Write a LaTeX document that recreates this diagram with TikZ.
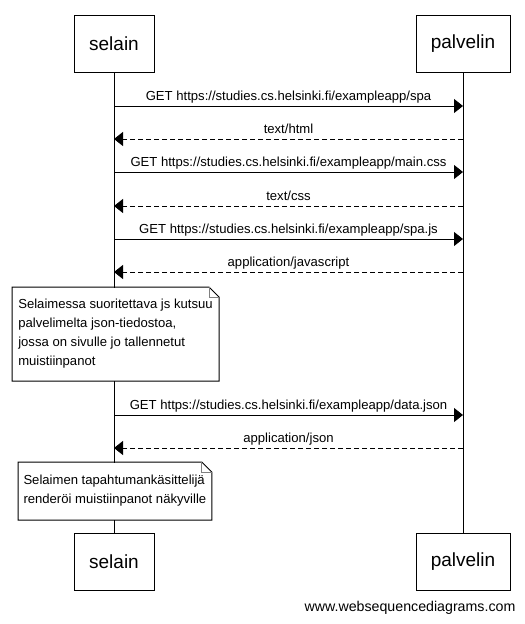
\documentclass[tikz,border=0pt]{standalone}
\usepackage{fontspec}
\setmainfont{Liberation Sans}
\usetikzlibrary{arrows.meta}

\tikzset{
  actor/.style={draw,rectangle,minimum height=57bp,inner xsep=8bp,font=\fontsize{19bp}{22bp}\selectfont},
  msg/.style={-{Triangle[length=9bp,width=14bp]}},
  reply/.style={msg,dash pattern=on 5bp off 3bp},
  msglabel/.style={midway,above,inner sep=2bp,text depth=3bp,font=\fontsize{13.1bp}{15bp}\selectfont},
  notebox/.style={fill=white,align=left,inner xsep=5bp,inner ysep=0bp,font=\fontsize{13.1bp}{19bp}\selectfont}
}

\begin{document}
\begin{tikzpicture}[line width=1bp]
\useasboundingbox (0bp,0bp) rectangle (525bp,-624bp);

% participants
\node (S) at (114bp,-43.5bp)[actor,minimum width=80bp] {selain};
\node (P) at (463bp,-43.5bp)[actor,minimum width=94bp] {palvelin};
\node (S2) at (114bp,-561.5bp)[actor,minimum width=80bp] {selain};
\node (P2) at (463bp,-561.5bp)[actor,minimum width=94bp] {palvelin};
\draw (S) -- (S2);
\draw (P) -- (P2);

% message ends
\coordinate (s1) at (114bp,-106bp); \coordinate (p1) at (463bp,-106bp);
\coordinate (s2) at (114bp,-139bp); \coordinate (p2) at (463bp,-139bp);
\coordinate (s3) at (114bp,-172bp); \coordinate (p3) at (463bp,-172bp);
\coordinate (s4) at (114bp,-206bp); \coordinate (p4) at (463bp,-206bp);
\coordinate (s5) at (114bp,-239bp); \coordinate (p5) at (463bp,-239bp);
\coordinate (s6) at (114bp,-272bp); \coordinate (p6) at (463bp,-272bp);
\coordinate (s7) at (114bp,-415bp); \coordinate (p7) at (463bp,-415bp);
\coordinate (s8) at (114bp,-448bp); \coordinate (p8) at (463bp,-448bp);

\draw [msg] (s1) -- node[msglabel] {GET https://studies.cs.helsinki.fi/exampleapp/spa} (p1);
\draw [reply] (p2) -- node[msglabel] {text/html} (s2);
\draw [msg] (s3) -- node[msglabel] {GET https://studies.cs.helsinki.fi/exampleapp/main.css} (p3);
\draw [reply] (p4) -- node[msglabel] {text/css} (s4);
\draw [msg] (s5) -- node[msglabel] {GET https://studies.cs.helsinki.fi/exampleapp/spa.js} (p5);
\draw [reply] (p6) -- node[msglabel] {application/javascript} (s6);
\draw [msg] (s7) -- node[msglabel] {GET https://studies.cs.helsinki.fi/exampleapp/data.json} (p7);
\draw [reply] (p8) -- node[msglabel] {application/json} (s8);

% notes
\node (N1) at (12bp,-287bp)[notebox,anchor=north west,minimum width=206bp,minimum height=93bp] {Selaimessa suoritettava js kutsuu\\palvelimelta json-tiedostoa,\\jossa on sivulle jo tallennetut\\muistiinpanot};
\draw (N1.north west) -- ([xshift=-10bp]N1.north east) -- ([yshift=-10bp]N1.north east) -- (N1.south east) -- (N1.south west) -- cycle;
\draw [gray] ([xshift=-10bp]N1.north east) -- ([xshift=-10bp,yshift=-10bp]N1.north east) -- ([yshift=-10bp]N1.north east);

\node (N2) at (18bp,-462bp)[notebox,anchor=north west,minimum width=192bp,minimum height=57bp] {Selaimen tapahtumankäsittelijä\\renderöi muistiinpanot näkyville};
\draw (N2.north west) -- ([xshift=-10bp]N2.north east) -- ([yshift=-10bp]N2.north east) -- (N2.south east) -- (N2.south west) -- cycle;
\draw [gray] ([xshift=-10bp]N2.north east) -- ([xshift=-10bp,yshift=-10bp]N2.north east) -- ([yshift=-10bp]N2.north east);

\node (W) at (410bp,-608bp)[font=\fontsize{14.2bp}{16bp}\selectfont] {www.websequencediagrams.com};
\end{tikzpicture}
\end{document}
